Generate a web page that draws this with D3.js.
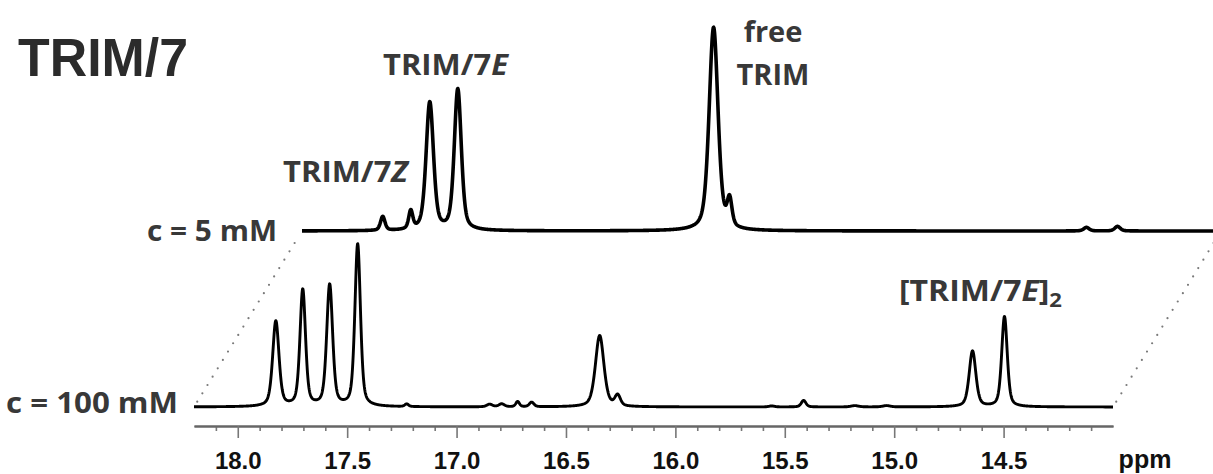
<!DOCTYPE html>
<html>
<head>
<meta charset="utf-8">
<script src="https://cdn.jsdelivr.net/npm/d3@7/dist/d3.min.js"></script>
<style>
  html, body { margin: 0; padding: 0; background: #fff; }
  svg { display: block; }
</style>
</head>
<body>
<svg id="chart" width="1213" height="474"></svg>
<script>
// ---------- DATA ----------
const ppmDomain = [18.2, 14.0];
const majorTicks = [18.0, 17.5, 17.0, 16.5, 16.0, 15.5, 15.0, 14.5];
const tickLabels = ["18.0", "17.5", "17.0", "16.5", "16.0", "15.5", "15.0", "14.5"];
const minorTicks = [18.1, 17.9, 17.8, 17.7, 17.6, 17.4, 17.3, 17.2, 17.1, 16.9, 16.8, 16.7, 16.6,
                    16.4, 16.3, 16.2, 16.1, 15.9, 15.8, 15.7, 15.6, 15.4, 15.3, 15.2, 15.1,
                    14.9, 14.8, 14.7, 14.6, 14.4, 14.3, 14.2, 14.1];

// c = 100 mM spectrum : peak positions (ppm), heights (a.u.), widths (FWHM, ppm)
const peaks100Ppm    = [17.826, 17.703, 17.580, 17.452, 17.228, 16.849, 16.794, 16.721, 16.657, 16.346, 16.264, 15.560, 15.414, 15.180, 15.035, 14.642, 14.496];
const peaks100Height = [52,     71,     74,     99,     1.6,    1.6,    1.8,    3.2,    2.8,    43.5,   6.5,    0.6,    4.0,    0.8,    0.8,    34,     55];
const peaks100Width  = [0.034,  0.030,  0.032,  0.030,  0.020,  0.030,  0.030,  0.020,  0.025,  0.046,  0.030,  0.030,  0.025,  0.040,  0.040,  0.036,  0.030];

// c = 5 mM spectrum
const peaks5Ppm    = [17.831, 17.703, 17.616, 17.488, 16.319, 16.246, 14.615, 14.473];
const peaks5Height = [8.5,    11,     78,     86,     124,    16.5,   2.2,    2.8];
const peaks5Width  = [0.024,  0.022,  0.040,  0.038,  0.048,  0.026,  0.030,  0.030];

const seriesLabels = ["c = 100 mM", "c = 5 mM"];

// ---------- LAYOUT ----------
const svg = d3.select("#chart");
const x = d3.scaleLinear().domain(ppmDomain).range([194, 1113]);
const y = d3.scaleLinear().domain([0, 100]).range([407, 243]);
const depthDx = 108, depthDy = -176;   // perspective offset of the back spectrum

const eta = 0.45;
function lineShape(ppmArr, hArr, wArr) {
  const grid = d3.range(ppmDomain[1], ppmDomain[0] + 1e-9, 0.0015);
  return grid.map(p => {
    let s = 0;
    for (let i = 0; i < ppmArr.length; i++) {
      const u = (p - ppmArr[i]) / (wArr[i] / 2);
      s += hArr[i] * (eta / (1 + u * u) + (1 - eta) * Math.exp(-Math.LN2 * u * u));
    }
    return [p, s];
  });
}
const line = d3.line().x(d => x(d[0])).y(d => y(d[1]));

// dotted perspective lines
const dots = svg.append("g")
  .attr("stroke", "#7a7a7a").attr("stroke-width", 2.2)
  .attr("stroke-linecap", "round").attr("stroke-dasharray", "0 9.8");
[ppmDomain[0], ppmDomain[1]].forEach(p => {
  const x0 = x(p), y0 = y(0);
  dots.append("line")
    .attr("x1", x0 + depthDx * 0.03).attr("y1", y0 + depthDy * 0.03)
    .attr("x2", x0 + depthDx * 0.97).attr("y2", y0 + depthDy * 0.97);
});

// back spectrum (5 mM)
svg.append("g").attr("transform", `translate(${depthDx},${depthDy})`)
  .append("path")
  .datum(lineShape(peaks5Ppm, peaks5Height, peaks5Width))
  .attr("fill", "none").attr("stroke", "#000").attr("stroke-width", 3.6)
  .attr("stroke-linejoin", "round")
  .attr("d", line);

// front spectrum (100 mM)
svg.append("path")
  .datum(lineShape(peaks100Ppm, peaks100Height, peaks100Width))
  .attr("fill", "none").attr("stroke", "#000").attr("stroke-width", 2.9)
  .attr("stroke-linejoin", "round")
  .attr("d", line);

// axis
const axisY = 426;
const minorAxis = d3.axisBottom(x).tickValues(minorTicks).tickSize(5).tickSizeOuter(0).tickFormat("");
const majorAxis = d3.axisBottom(x).tickValues(majorTicks).tickSize(12).tickSizeOuter(0).tickPadding(14)
  .tickFormat((d, i) => tickLabels[i]);
const gMinor = svg.append("g").attr("transform", `translate(0,${axisY})`).call(minorAxis);
const gMajor = svg.append("g").attr("transform", `translate(0,${axisY})`).call(majorAxis);
[gMinor, gMajor].forEach(g => {
  g.select(".domain").attr("stroke", "#666").attr("stroke-width", 2);
  g.selectAll(".tick line").attr("stroke", "#777").attr("stroke-width", 1.6);
});
gMajor.selectAll(".tick text")
  .attr("font-family", "'Liberation Sans', Arial, sans-serif")
  .attr("font-weight", "bold").attr("font-size", 24).attr("fill", "#111");
svg.append("text").attr("x", 1145).attr("y", 468).attr("text-anchor", "middle")
  .attr("font-family", "'Liberation Sans', Arial, sans-serif")
  .attr("font-weight", "bold").attr("font-size", 25).attr("fill", "#111").text("ppm");

// title
svg.append("text").attr("x", 18).attr("y", 76)
  .attr("font-family", "'Liberation Sans', Arial, sans-serif")
  .attr("font-weight", "bold").attr("font-size", 54).attr("fill", "#2b2b2b")
  .attr("textLength", 170).attr("lengthAdjust", "spacingAndGlyphs")
  .text("TRIM/7");

// annotations
const annFont = "'Open Sans', 'Noto Sans', sans-serif";
function ann(xp, yp, parts, len, anchor) {
  const t = svg.append("text").attr("x", xp).attr("y", yp)
    .attr("font-family", annFont).attr("font-weight", 700).attr("font-size", 29)
    .attr("fill", "#383838").attr("text-anchor", anchor || "start");
  if (len) t.attr("textLength", len).attr("lengthAdjust", "spacingAndGlyphs");
  parts.forEach(p => {
    const ts = t.append("tspan").text(p.t);
    if (p.i) ts.attr("font-style", "italic");
    if (p.sub) ts.attr("font-size", 20).attr("dy", 6);
  });
  return t;
}
ann(283, 182, [{t: "TRIM/7"}, {t: "Z", i: true}], 125);
ann(383, 75, [{t: "TRIM/7"}, {t: "E", i: true}], 125);
ann(773, 42, [{t: "free"}], null, "middle");
ann(773, 85, [{t: "TRIM"}], null, "middle");
ann(899, 301, [{t: "[TRIM/7"}, {t: "E", i: true}, {t: "]"}, {t: "2", sub: true}], 163);
ann(277, 241, [{t: seriesLabels[1]}], 130, "end").attr("font-size", 28);
ann(178, 413, [{t: seriesLabels[0]}], 172, "end").attr("font-size", 28);
</script>
</body>
</html>
